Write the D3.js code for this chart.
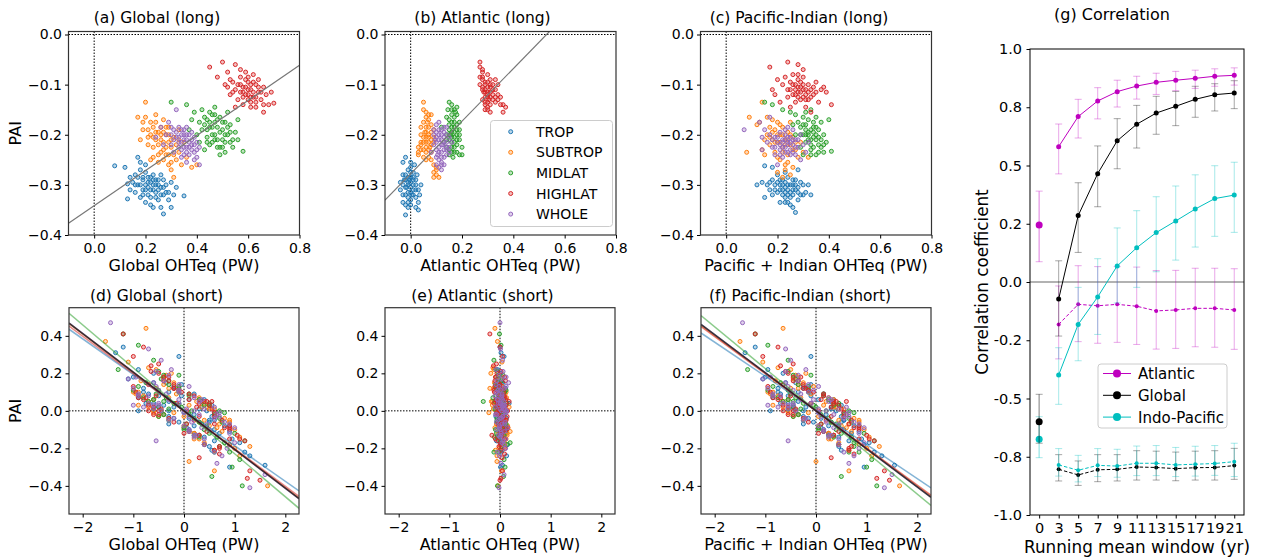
<!DOCTYPE html>
<html>
<head>
<meta charset="utf-8">
<script src="https://cdn.jsdelivr.net/npm/d3@7"></script>
<style>
  body { margin: 0; background: #fff; }
  svg { font-family: "DejaVu Sans", sans-serif; }
</style>
</head>
<body>
<div id="wrapper"></div>
<script>
// ---------- data ----------
const categories = ["TROP", "SUBTROP", "MIDLAT", "HIGHLAT", "WHOLE"]
const catColors = ["#1f77b4", "#ff7f0e", "#2ca02c", "#d62728", "#9467bd"]

const longGlobal = [
  "0.08,-0.262 0.12,-0.265 0.13,-0.298 0.14,-0.31 0.15,-0.295 0.16,-0.28 0.16,-0.315 0.17,-0.245 0.17,-0.30 0.18,-0.27 0.18,-0.325 0.19,-0.29 0.19,-0.31 0.20,-0.275 0.20,-0.30 0.21,-0.285 0.21,-0.32 0.22,-0.295 0.22,-0.31 0.22,-0.34 0.23,-0.28 0.23,-0.30 0.24,-0.315 0.24,-0.29 0.25,-0.33 0.25,-0.30 0.26,-0.305 0.26,-0.345 0.27,-0.29 0.27,-0.32 0.28,-0.30 0.29,-0.315 0.30,-0.295 0.30,-0.345 0.32,-0.305 0.13,-0.328 0.20,-0.335 0.27,-0.358 0.35,-0.322 0.18,-0.255 0.19,-0.285 0.21,-0.295 0.23,-0.31 0.24,-0.30 0.22,-0.285 0.20,-0.31 0.25,-0.29 0.26,-0.32 0.18,-0.30 0.21,-0.305 0.23,-0.29 0.24,-0.325 0.22,-0.325 0.19,-0.32 0.17,-0.285 0.27,-0.305 0.28,-0.315 0.25,-0.31 0.16,-0.30 0.29,-0.33 0.14,-0.285 0.31,-0.32 0.23,-0.345 0.20,-0.26 0.26,-0.28",
  "0.17,-0.165 0.19,-0.175 0.20,-0.135 0.21,-0.19 0.21,-0.22 0.22,-0.175 0.23,-0.205 0.23,-0.245 0.24,-0.16 0.24,-0.195 0.25,-0.22 0.26,-0.185 0.26,-0.21 0.27,-0.23 0.27,-0.17 0.28,-0.2 0.28,-0.24 0.29,-0.215 0.29,-0.185 0.30,-0.225 0.30,-0.27 0.31,-0.205 0.31,-0.285 0.32,-0.25 0.33,-0.235 0.33,-0.19 0.34,-0.26 0.35,-0.215 0.36,-0.245 0.38,-0.265 0.40,-0.26 0.29,-0.26 0.22,-0.25 0.18,-0.21 0.25,-0.24 0.32,-0.22 0.24,-0.21 0.26,-0.2 0.27,-0.215 0.28,-0.185 0.25,-0.195 0.29,-0.2 0.30,-0.21 0.27,-0.195 0.23,-0.185 0.22,-0.2 0.26,-0.235 0.28,-0.225 0.31,-0.24 0.24,-0.175 0.20,-0.165 0.21,-0.205 0.33,-0.21 0.29,-0.24 0.25,-0.255 0.19,-0.19 0.30,-0.255 0.27,-0.25 0.23,-0.225",
  "0.30,-0.135 0.36,-0.14 0.38,-0.17 0.40,-0.2 0.41,-0.215 0.42,-0.19 0.42,-0.15 0.43,-0.165 0.44,-0.205 0.44,-0.17 0.45,-0.185 0.45,-0.22 0.46,-0.16 0.46,-0.2 0.47,-0.175 0.47,-0.145 0.48,-0.21 0.48,-0.185 0.49,-0.165 0.49,-0.225 0.50,-0.19 0.50,-0.21 0.51,-0.175 0.51,-0.235 0.52,-0.2 0.52,-0.155 0.53,-0.215 0.53,-0.18 0.54,-0.225 0.55,-0.195 0.56,-0.17 0.56,-0.21 0.58,-0.233 0.39,-0.155 0.43,-0.23 0.37,-0.19 0.45,-0.175 0.46,-0.185 0.47,-0.2 0.48,-0.17 0.44,-0.19 0.49,-0.195 0.50,-0.175 0.51,-0.2 0.47,-0.21 0.46,-0.215 0.48,-0.225 0.52,-0.185 0.43,-0.18 0.45,-0.155 0.50,-0.225 0.53,-0.195 0.49,-0.24 0.41,-0.175 0.54,-0.21 0.47,-0.16 0.44,-0.215 0.51,-0.215",
  "0.45,-0.065 0.48,-0.085 0.50,-0.055 0.51,-0.1 0.52,-0.075 0.53,-0.12 0.54,-0.095 0.55,-0.06 0.55,-0.11 0.56,-0.13 0.57,-0.085 0.57,-0.1 0.58,-0.115 0.58,-0.14 0.59,-0.075 0.59,-0.105 0.60,-0.12 0.60,-0.095 0.61,-0.135 0.61,-0.11 0.62,-0.08 0.62,-0.125 0.63,-0.1 0.63,-0.145 0.64,-0.115 0.64,-0.09 0.65,-0.13 0.66,-0.155 0.66,-0.105 0.67,-0.12 0.68,-0.14 0.69,-0.115 0.70,-0.137 0.55,-0.145 0.53,-0.09 0.58,-0.105 0.59,-0.12 0.60,-0.11 0.61,-0.1 0.62,-0.115 0.60,-0.13 0.57,-0.115 0.63,-0.125 0.59,-0.09 0.61,-0.125 0.62,-0.095 0.56,-0.1 0.64,-0.105 0.58,-0.125 0.60,-0.085 0.65,-0.115 0.57,-0.07 0.54,-0.115 0.63,-0.135 0.61,-0.145 0.66,-0.14 0.52,-0.105",
  "0.26,-0.185 0.28,-0.2 0.29,-0.175 0.30,-0.22 0.31,-0.19 0.31,-0.235 0.32,-0.205 0.32,-0.15 0.33,-0.215 0.33,-0.185 0.34,-0.2 0.34,-0.23 0.35,-0.21 0.35,-0.19 0.36,-0.225 0.36,-0.2 0.37,-0.215 0.37,-0.24 0.38,-0.195 0.38,-0.22 0.39,-0.205 0.39,-0.235 0.40,-0.215 0.40,-0.245 0.41,-0.225 0.41,-0.26 0.36,-0.255 0.34,-0.245 0.30,-0.2 0.27,-0.22 0.24,-0.205 0.33,-0.205 0.34,-0.215 0.35,-0.225 0.36,-0.21 0.37,-0.2 0.38,-0.23 0.35,-0.2 0.34,-0.19 0.36,-0.235 0.39,-0.22 0.33,-0.225 0.37,-0.225 0.32,-0.195 0.38,-0.21 0.40,-0.23 0.31,-0.21 0.35,-0.24 0.39,-0.25 0.36,-0.185 0.30,-0.185"
]
const longAtlantic = [
  "-0.03,-0.255 -0.02,-0.245 -0.02,-0.28 -0.03,-0.30 -0.01,-0.27 -0.01,-0.295 -0.01,-0.315 0.00,-0.265 0.00,-0.285 0.00,-0.305 0.00,-0.33 -0.02,-0.32 -0.03,-0.335 -0.04,-0.31 -0.01,-0.345 -0.02,-0.36 0.01,-0.29 0.01,-0.31 0.01,-0.275 0.02,-0.30 0.02,-0.325 0.03,-0.31 0.03,-0.335 0.04,-0.3 0.02,-0.345 -0.01,-0.325 0.005,-0.32 -0.005,-0.29 0.015,-0.26 -0.025,-0.29 0.025,-0.28 -0.015,-0.305 0.035,-0.32 -0.01,-0.30 0.00,-0.295 -0.02,-0.305 0.01,-0.32 -0.01,-0.285 0.00,-0.315 -0.02,-0.29 0.01,-0.30 -0.03,-0.32 0.00,-0.275 0.02,-0.31 -0.01,-0.335 -0.02,-0.34 0.00,-0.34 0.01,-0.285 -0.04,-0.295 0.02,-0.29 -0.03,-0.28 0.00,-0.255 0.03,-0.35",
  "0.05,-0.135 0.05,-0.15 0.06,-0.165 0.06,-0.185 0.07,-0.17 0.07,-0.2 0.08,-0.18 0.08,-0.21 0.06,-0.205 0.05,-0.215 0.04,-0.22 0.04,-0.2 0.03,-0.235 0.03,-0.24 0.05,-0.23 0.06,-0.225 0.07,-0.215 0.08,-0.235 0.09,-0.19 0.09,-0.205 0.07,-0.245 0.06,-0.25 0.04,-0.215 0.08,-0.16 0.09,-0.26 0.10,-0.265 0.10,-0.28 0.11,-0.285 0.09,-0.275 0.055,-0.195 0.075,-0.225 0.065,-0.175 0.06,-0.195 0.07,-0.205 0.06,-0.215 0.07,-0.185 0.08,-0.195 0.05,-0.205 0.06,-0.235 0.07,-0.23 0.05,-0.175 0.06,-0.155 0.04,-0.23 0.08,-0.22 0.05,-0.245 0.07,-0.16 0.09,-0.215 0.1,-0.27 0.09,-0.285 0.04,-0.185 0.03,-0.225 0.08,-0.25",
  "0.15,-0.135 0.16,-0.14 0.17,-0.15 0.14,-0.165 0.15,-0.17 0.16,-0.16 0.17,-0.175 0.18,-0.16 0.15,-0.19 0.16,-0.185 0.17,-0.195 0.18,-0.18 0.19,-0.19 0.14,-0.2 0.15,-0.21 0.16,-0.205 0.17,-0.215 0.18,-0.2 0.13,-0.215 0.14,-0.225 0.15,-0.23 0.16,-0.225 0.17,-0.235 0.18,-0.22 0.19,-0.24 0.2,-0.24 0.19,-0.21 0.12,-0.185 0.145,-0.15 0.165,-0.245 0.175,-0.155 0.155,-0.2 0.16,-0.195 0.17,-0.185 0.16,-0.175 0.17,-0.205 0.18,-0.19 0.15,-0.2 0.16,-0.215 0.17,-0.165 0.18,-0.21 0.15,-0.18 0.16,-0.15 0.18,-0.235 0.19,-0.2 0.14,-0.21 0.17,-0.225 0.15,-0.24 0.19,-0.175 0.16,-0.235 0.18,-0.145 0.2,-0.225",
  "0.27,-0.055 0.27,-0.065 0.28,-0.075 0.27,-0.085 0.28,-0.09 0.29,-0.1 0.28,-0.105 0.29,-0.11 0.30,-0.095 0.30,-0.12 0.31,-0.105 0.29,-0.125 0.30,-0.135 0.31,-0.115 0.32,-0.1 0.31,-0.14 0.29,-0.15 0.30,-0.145 0.28,-0.13 0.32,-0.12 0.33,-0.11 0.34,-0.12 0.35,-0.125 0.33,-0.135 0.36,-0.14 0.37,-0.145 0.36,-0.155 0.31,-0.155 0.34,-0.1 0.30,-0.08 0.33,-0.09 0.285,-0.115 0.305,-0.13 0.29,-0.115 0.30,-0.105 0.30,-0.115 0.31,-0.125 0.29,-0.095 0.28,-0.11 0.31,-0.1 0.30,-0.125 0.32,-0.13 0.29,-0.135 0.28,-0.085 0.31,-0.09 0.32,-0.11 0.33,-0.125 0.28,-0.07 0.30,-0.15 0.34,-0.13 0.35,-0.14 0.27,-0.1 0.29,-0.14",
  "0.09,-0.19 0.10,-0.18 0.11,-0.175 0.12,-0.19 0.13,-0.185 0.14,-0.2 0.10,-0.205 0.11,-0.2 0.12,-0.21 0.13,-0.205 0.14,-0.215 0.15,-0.225 0.09,-0.22 0.10,-0.23 0.11,-0.225 0.12,-0.235 0.13,-0.23 0.14,-0.24 0.15,-0.235 0.10,-0.245 0.11,-0.25 0.12,-0.255 0.13,-0.26 0.11,-0.265 0.12,-0.27 0.08,-0.235 0.16,-0.215 0.095,-0.21 0.125,-0.22 0.105,-0.24 0.11,-0.21 0.12,-0.22 0.13,-0.215 0.12,-0.2 0.11,-0.235 0.13,-0.245 0.10,-0.215 0.14,-0.225 0.12,-0.245 0.11,-0.19 0.14,-0.23 0.10,-0.195 0.13,-0.195 0.15,-0.205 0.12,-0.26 0.10,-0.26 0.09,-0.2 0.14,-0.185"
]
const longPacific = [
  "0.12,-0.30 0.14,-0.295 0.15,-0.325 0.16,-0.3 0.17,-0.31 0.18,-0.29 0.18,-0.32 0.19,-0.3 0.2,-0.28 0.2,-0.315 0.21,-0.3 0.21,-0.335 0.22,-0.29 0.22,-0.31 0.23,-0.305 0.23,-0.325 0.24,-0.285 0.24,-0.3 0.25,-0.315 0.25,-0.34 0.26,-0.3 0.26,-0.32 0.27,-0.29 0.27,-0.31 0.28,-0.33 0.28,-0.305 0.29,-0.295 0.29,-0.32 0.3,-0.3 0.31,-0.315 0.32,-0.3 0.33,-0.32 0.27,-0.355 0.26,-0.345 0.15,-0.262 0.18,-0.265 0.28,-0.27 0.23,-0.275 0.22,-0.30 0.23,-0.295 0.24,-0.31 0.25,-0.3 0.21,-0.31 0.22,-0.32 0.24,-0.32 0.26,-0.31 0.2,-0.295 0.23,-0.315 0.25,-0.325 0.19,-0.31 0.27,-0.3 0.21,-0.29 0.24,-0.335 0.28,-0.315 0.17,-0.295 0.26,-0.29 0.23,-0.335 0.3,-0.32",
  "0.09,-0.165 0.08,-0.235 0.12,-0.18 0.14,-0.135 0.14,-0.23 0.15,-0.24 0.16,-0.2 0.17,-0.185 0.17,-0.22 0.18,-0.17 0.18,-0.21 0.19,-0.19 0.19,-0.235 0.2,-0.175 0.2,-0.215 0.21,-0.2 0.21,-0.25 0.22,-0.185 0.22,-0.225 0.23,-0.21 0.23,-0.26 0.24,-0.195 0.24,-0.24 0.25,-0.22 0.25,-0.28 0.26,-0.205 0.26,-0.265 0.27,-0.23 0.28,-0.245 0.29,-0.215 0.3,-0.235 0.32,-0.245 0.2,-0.275 0.22,-0.285 0.16,-0.165 0.25,-0.175 0.21,-0.215 0.22,-0.2 0.23,-0.22 0.2,-0.2 0.24,-0.21 0.19,-0.215 0.22,-0.235 0.25,-0.2 0.18,-0.195 0.21,-0.18 0.26,-0.23 0.17,-0.205 0.24,-0.255 0.2,-0.245 0.27,-0.215 0.15,-0.21 0.23,-0.27 0.13,-0.175",
  "0.15,-0.135 0.18,-0.14 0.22,-0.15 0.25,-0.155 0.27,-0.16 0.28,-0.175 0.29,-0.185 0.3,-0.165 0.3,-0.2 0.31,-0.18 0.31,-0.215 0.32,-0.17 0.32,-0.195 0.33,-0.21 0.33,-0.23 0.34,-0.185 0.34,-0.205 0.34,-0.225 0.35,-0.2 0.35,-0.24 0.36,-0.19 0.36,-0.22 0.37,-0.175 0.37,-0.21 0.38,-0.2 0.38,-0.235 0.39,-0.215 0.4,-0.17 0.41,-0.233 0.29,-0.225 0.27,-0.2 0.26,-0.18 0.33,-0.15 0.3,-0.24 0.35,-0.165 0.32,-0.2 0.33,-0.19 0.34,-0.195 0.31,-0.2 0.33,-0.22 0.35,-0.21 0.32,-0.21 0.36,-0.205 0.31,-0.19 0.34,-0.175 0.3,-0.18 0.37,-0.225 0.35,-0.185 0.29,-0.2 0.36,-0.235 0.38,-0.22 0.31,-0.155 0.33,-0.24",
  "0.17,-0.065 0.24,-0.055 0.28,-0.06 0.3,-0.07 0.2,-0.09 0.22,-0.1 0.23,-0.085 0.24,-0.11 0.25,-0.095 0.26,-0.08 0.26,-0.12 0.27,-0.1 0.27,-0.135 0.28,-0.09 0.28,-0.115 0.29,-0.105 0.29,-0.13 0.3,-0.085 0.3,-0.11 0.31,-0.12 0.31,-0.145 0.32,-0.1 0.32,-0.13 0.33,-0.11 0.34,-0.12 0.35,-0.095 0.36,-0.135 0.37,-0.11 0.38,-0.105 0.39,-0.115 0.41,-0.14 0.19,-0.12 0.21,-0.135 0.25,-0.145 0.33,-0.155 0.18,-0.11 0.28,-0.105 0.29,-0.115 0.3,-0.1 0.27,-0.11 0.29,-0.095 0.31,-0.11 0.28,-0.125 0.3,-0.125 0.26,-0.1 0.32,-0.115 0.27,-0.12 0.33,-0.125 0.25,-0.11 0.31,-0.13 0.28,-0.08 0.34,-0.105 0.24,-0.125 0.35,-0.115",
  "0.07,-0.19 0.13,-0.175 0.14,-0.205 0.15,-0.19 0.16,-0.215 0.17,-0.2 0.18,-0.225 0.19,-0.205 0.19,-0.24 0.2,-0.215 0.21,-0.195 0.21,-0.23 0.22,-0.21 0.22,-0.245 0.23,-0.2 0.23,-0.225 0.24,-0.215 0.24,-0.235 0.25,-0.205 0.25,-0.23 0.26,-0.22 0.26,-0.19 0.27,-0.24 0.27,-0.21 0.28,-0.225 0.29,-0.2 0.29,-0.25 0.3,-0.22 0.31,-0.235 0.32,-0.215 0.17,-0.165 0.2,-0.26 0.14,-0.23 0.24,-0.185 0.22,-0.215 0.23,-0.21 0.24,-0.22 0.25,-0.215 0.21,-0.22 0.22,-0.225 0.23,-0.235 0.24,-0.205 0.26,-0.21 0.2,-0.205 0.25,-0.24 0.27,-0.225 0.21,-0.24 0.23,-0.19 0.28,-0.21 0.19,-0.225 0.26,-0.235 0.18,-0.21"
]
const longTicksX = [0, 0.2, 0.4, 0.6, 0.8]
const longTicksY = [-0.4, -0.3, -0.2, -0.1, 0]
const longFitGlobal = [-0.3415, 0.35]      // intercept, slope
const longFitAtlantic = [-0.278, 0.525]

// short term: PAI per category, and OHT for each basin (same order)
const shortPAI = [
  [0.31, 0.22, 0.29, 0.05, 0.12, -0.02, 0.08, -0.06, 0.00, -0.10, 0.03, -0.14, 0.15, -0.18, 0.02, -0.04, 0.10, -0.22, -0.08, 0.06, -0.29, 0.18, -0.12, 0.01, -0.30, 0.04, -0.05, -0.24, 0.09, -0.01, -0.16, 0.34,
   0.05, -0.03, 0.11, -0.08, 0.02, 0.14, -0.12, 0.07, -0.01, 0.09, -0.06, 0.04, -0.15, 0.12, 0.00, -0.09, 0.06, -0.04, 0.17, -0.19, 0.03, -0.02, 0.08, -0.11, 0.01, 0.13, -0.07, 0.10, -0.13, 0.02, -0.05, 0.15, -0.10, 0.04, -0.17, 0.06, 0.00, -0.03, 0.20, -0.21],
  [0.37, 0.44, 0.20, 0.26, 0.12, -0.01, 0.07, -0.05, 0.03, -0.11, 0.16, -0.15, 0.00, -0.20, 0.09, -0.27, -0.08, 0.05, -0.32, 0.14, -0.03, -0.40, 0.02, -0.18, 0.22, -0.12, 0.10, -0.06, 0.19, -0.24, 0.04, -0.09,
   -0.02, 0.06, -0.09, 0.13, 0.01, -0.14, 0.08, -0.05, 0.18, -0.01, 0.04, -0.12, 0.10, -0.07, 0.02, 0.15, -0.17, 0.05, -0.03, 0.11, -0.10, 0.00, 0.07, -0.21, 0.03, -0.06, 0.12, -0.04, 0.09, -0.15, 0.01, 0.17, -0.08, 0.04, -0.13, 0.06, -0.02, 0.23, -0.19, 0.02],
  [0.41, 0.22, 0.35, 0.27, 0.13, 0.19, 0.05, 0.09, -0.02, 0.01, -0.07, 0.15, -0.12, 0.03, -0.17, -0.04, -0.22, 0.07, -0.26, 0.00, -0.10, -0.35, 0.11, -0.40, -0.14, 0.04, -0.19, -0.06, 0.17, -0.30, 0.02, -0.08,
   0.03, -0.05, 0.10, -0.11, 0.06, -0.02, 0.14, -0.08, 0.01, 0.08, -0.14, 0.04, -0.03, 0.12, -0.18, 0.07, 0.00, -0.06, 0.16, -0.10, 0.02, 0.09, -0.13, 0.05, -0.01, 0.19, -0.16, 0.11, -0.04, 0.03, -0.09, 0.13, -0.22, 0.06, -0.07, 0.21, 0.00, -0.12, 0.08, -0.02],
  [0.41, 0.34, 0.29, 0.25, 0.21, 0.16, 0.12, 0.08, 0.04, 0.00, -0.03, -0.07, -0.11, 0.06, -0.15, 0.10, -0.19, 0.02, -0.25, -0.05, 0.14, -0.36, 0.01, -0.09, -0.32, 0.18, -0.13, 0.05, -0.02, -0.21, -0.37, 0.07,
   0.09, -0.04, 0.13, -0.08, 0.02, 0.05, -0.12, 0.16, -0.01, 0.07, -0.15, 0.03, -0.06, 0.11, -0.18, 0.00, 0.20, -0.10, 0.04, -0.03, 0.14, -0.20, 0.06, -0.07, 0.01, 0.10, -0.13, 0.08, -0.02, 0.18, -0.09, 0.03, -0.16, 0.12, -0.05, 0.24, -0.23, 0.05, -0.11, 0.00],
  [0.47, 0.33, 0.27, 0.22, 0.18, 0.13, 0.09, 0.06, 0.03, 0.01, -0.02, -0.04, -0.07, -0.10, -0.13, -0.16, -0.20, -0.24, -0.28, -0.34, -0.41, 0.08, -0.03, 0.00, 0.11, -0.09, 0.04, -0.06, 0.15, -0.17, 0.02, -0.01,
   0.07, -0.05, 0.12, -0.09, 0.03, -0.01, 0.16, -0.13, 0.05, 0.09, -0.07, 0.01, 0.14, -0.11, 0.04, -0.03, 0.19, -0.15, 0.06, 0.00, -0.18, 0.10, -0.04, 0.02, 0.13, -0.08, 0.08, -0.02, 0.21, -0.12, 0.04, -0.06, 0.11, -0.22, 0.01, 0.17, -0.10, 0.03, -0.14, 0.06]
]
const shortGlobal = [
  [-1.35, -0.9, -0.1, -0.3, -0.8, 0.2, -0.5, 0.5, -0.9, 0.6, -0.4, 0.4, -0.6, 0.9, -0.2, 0.1, -0.3, 1.2, 0.2, -0.6, 1.6, -1.0, 0.7, 0.3, 0.9, -0.1, 0.5, 1.3, -0.7, 0.0, 0.6, -1.2,
   0.35, -0.3, -0.1, 0.8, -0.5, -0.05, 0.2, -0.9, 0.6, 0.2, -0.1, -0.6, 0.95, -0.2, 0.45, 0.05, 0.4, -0.2, -1.1, 0.5, 0.55, -0.4, -0.05, 0.9, -0.6, -0.2, -0.3, -0.8, 0.3, 0.35, 0.6, -0.35, 0.1, -0.75, 1.1, 0.1, -0.3, 0.55, -0.6, 0.55],
  [-1.55, -0.75, -0.25, -1.1, -0.55, -0.2, -0.3, 0.4, 0.1, 0.75, -0.85, 0.3, -0.6, 1.0, -0.15, 0.1, 0.5, -0.7, 0.6, -0.4, 0.0, 1.65, 0.35, 0.9, -0.55, 0.2, -1.0, 0.3, -0.35, 1.1, -0.15, 0.65,
   -0.4, 0.3, 0.0, -0.1, 0.6, 1.1, -0.8, 0.9, -0.4, -0.6, 0.4, 0.2, -0.9, 0.7, -0.7, -0.2, 0.4, 0.25, -0.5, -0.1, 1.0, -0.45, 0.3, 0.6, -0.9, 0.9, -0.3, 0.8, -0.95, 0.2, 0.5, -0.4, 0.0, -0.7, 0.3, -0.6, 0.65, -0.7, 1.3, 0.45],
  [-1.2, -1.3, -0.9, -0.6, -0.9, -0.1, -0.4, -0.55, 0.1, -0.3, 0.35, -0.75, 0.5, -0.1, 0.8, 0.2, 0.9, -0.35, 1.1, 0.15, 0.4, 0.55, -0.5, 1.15, 0.65, -0.2, 0.7, 0.3, -0.45, 0.95, -0.05, 0.45,
   0.4, -0.3, -0.1, 0.1, -0.6, 0.6, -0.3, 0.9, -0.6, -0.9, 0.3, 0.5, -0.5, -0.1, 0.4, -0.8, 0.7, 0.75, -0.3, 0.0, -0.5, 0.1, 0.2, -0.7, 0.8, -0.4, 1.2, -1.0, 0.7, 0.5, 0.0, -0.1, 0.6, 0.3, 0.05, -0.5, -0.45, 1.0, 0.1, -0.4],
  [-1.2, -0.8, -1.0, -0.5, -0.65, -0.4, -0.2, -0.55, -0.15, 0.05, 0.3, 0.6, 0.45, 0.1, 0.9, -0.05, 0.7, 0.25, 0.3, 0.2, -0.7, 1.25, -0.45, 0.8, 1.3, -0.3, 1.05, 0.55, -0.6, 0.6, 1.5, -0.75,
   0.1, -0.3, -1.0, 0.9, -0.6, 0.4, 0.0, -0.3, 0.6, -0.9, 1.1, 0.5, -0.2, -0.1, 0.4, -0.7, -0.5, 0.9, 0.3, 0.6, -0.2, 0.7, -0.8, 0.05, 0.55, -0.95, 0.3, 0.2, -0.5, -0.4, 0.9, -0.7, 1.2, -0.2, 0.75, -0.65, 0.7, 0.45, 0.1, -0.5],
  [-1.45, -0.7, -0.45, -0.25, -0.95, -0.55, -0.35, -0.3, -1.0, 0.05, 0.3, -0.2, 0.45, 0.5, 0.25, -0.55, 0.85, 0.75, 0.65, 1.6, 1.3, -0.7, 0.1, 0.2, -0.5, 0.35, -0.1, 0.15, -0.6, 1.0, 0.6, 0.0,
   0.2, -0.3, -1.0, 1.0, -0.5, 0.7, -0.4, 0.2, 0.3, -0.9, 0.9, -0.6, -0.1, 0.1, -0.7, 0.7, -0.3, 0.4, 0.35, -0.45, 0.4, -0.1, 0.6, -0.8, 0.1, 0.0, -0.9, 0.65, -0.55, 0.9, -0.5, 0.8, -0.1, 0.6, 0.4, -1.1, 0.1, -0.6, 0.2, -0.1]
]
const shortAtlantic = [
  [0.02, -0.05, 0.08, 0.05, -0.03, 0.01, 0.04, 0.10, -0.06, 0.12, 0.00, -0.02, 0.06, 0.15, -0.04, 0.03, 0.09, 0.02, -0.01, 0.07, 0.05, -0.08, 0.11, -0.05, 0.01, 0.18, 0.04, 0.13, -0.03, 0.06, -0.07, 0.0,
   0.03, -0.02, 0.06, 0.0, 0.09, -0.04, 0.01, 0.05, -0.07, 0.02, 0.08, -0.01, 0.04, 0.11, -0.03, 0.06, 0.0, 0.13, -0.05, 0.03, 0.07, -0.02, 0.01, 0.1, -0.06, 0.04, 0.02, -0.03, 0.08, 0.05, -0.01, 0.03, 0.12, -0.04, 0.0, 0.06, 0.09, -0.08, 0.02, 0.04],
  [-0.05, -0.1, -0.18, 0.04, -0.2, -0.22, 0.0, 0.08, -0.15, 0.2, -0.03, 0.12, 0.06, -0.02, 0.1, -0.06, 0.15, -0.17, 0.03, -0.08, 0.05, -0.04, 0.18, 0.09, -0.12, 0.14, -0.02, 0.11, 0.0, -0.06, 0.07, 0.16,
   -0.06, 0.03, -0.1, 0.05, -0.13, 0.08, -0.02, 0.1, -0.08, 0.0, 0.06, -0.04, 0.12, -0.07, 0.02, -0.11, 0.09, -0.15, 0.04, -0.01, 0.07, -0.05, 0.13, -0.09, 0.01, 0.05, -0.12, 0.08, -0.03, 0.11, -0.08, 0.02, 0.06, -0.06, 0.14, -0.02, 0.04, -0.14, 0.09, 0.0],
  [-0.01, -0.08, 0.02, -0.12, -0.05, 0.06, -0.33, 0.03, 0.09, -0.1, 0.12, -0.04, -0.07, 0.05, 0.2, 0.0, -0.02, -0.14, 0.08, 0.04, -0.09, 0.07, 0.01, -0.05, -0.11, 0.13, 0.03, -0.06, -0.03, 0.1, 0.06, -0.01,
   0.02, -0.06, 0.09, 0.0, -0.03, 0.05, -0.09, 0.11, -0.01, 0.04, -0.05, 0.07, 0.01, -0.08, 0.13, -0.02, 0.06, -0.04, 0.03, 0.1, -0.07, 0.02, 0.08, -0.1, 0.05, -0.03, 0.0, 0.12, -0.06, 0.04, 0.09, -0.01, -0.12, 0.07, 0.02, -0.05, 0.11, 0.0, -0.08, 0.06],
  [-0.2, 0.0, 0.05, -0.07, 0.02, -0.1, 0.08, 0.03, -0.12, 0.0, 0.14, -0.04, 0.06, 0.11, -0.09, 0.07, -0.02, -0.06, 0.04, 0.12, 0.0, 0.02, -0.03, 0.15, 0.05, 0.09, -0.16, 0.18, -0.05, 0.01, 0.0, 0.1,
   -0.04, 0.06, -0.1, 0.02, 0.08, -0.05, 0.0, 0.11, -0.07, 0.03, 0.09, -0.02, 0.05, -0.12, 0.01, 0.07, -0.06, 0.13, -0.03, 0.04, 0.0, 0.1, -0.08, 0.02, 0.06, -0.11, 0.03, 0.08, -0.01, -0.09, 0.05, 0.12, -0.04, 0.0, 0.07, -0.13, 0.09, -0.02, 0.04, 0.15],
  [0.0, 0.01, 0.05, -0.08, 0.12, -0.02, 0.04, -0.05, 0.07, 0.1, -0.06, 0.03, 0.09, 0.0, -0.03, 0.06, 0.11, -0.01, 0.02, 0.08, -0.02, -0.1, 0.05, 0.13, -0.04, 0.15, 0.01, -0.07, 0.17, 0.04, -0.09, 0.12,
   0.03, -0.04, 0.08, -0.01, 0.05, 0.1, -0.06, 0.02, 0.07, -0.03, 0.04, 0.0, -0.08, 0.09, 0.01, 0.06, -0.02, 0.11, -0.05, 0.03, 0.08, -0.07, 0.0, 0.05, 0.12, -0.01, 0.04, -0.09, 0.06, 0.02, -0.03, 0.1, 0.01, -0.05, 0.07, 0.03, -0.06, 0.09, 0.0, 0.05]
]
const shortPacific = [
  [-1.4, -0.95, -0.1, -0.35, -0.75, 0.2, -0.55, 0.5, -0.9, 0.55, -0.45, 0.45, -0.6, 0.95, -0.2, 0.1, -0.35, 1.15, 0.25, -0.55, 1.55, -1.0, 0.7, 0.3, 0.95, -0.1, 0.55, 1.3, -0.7, 0.05, 0.65, -1.2,
   0.3, -0.25, -0.15, 0.75, -0.45, -0.1, 0.25, -0.85, 0.55, 0.15, -0.05, -0.55, 0.9, -0.25, 0.4, 0.1, 0.35, -0.15, -1.05, 0.45, 0.5, -0.35, -0.1, 0.85, -0.55, -0.25, -0.25, -0.75, 0.35, 0.3, 0.55, -0.4, 0.15, -0.7, 1.05, 0.05, -0.25, 0.5, -0.65, 0.5],
  [-1.5, -0.65, -0.2, -1.05, -0.5, -0.15, -0.3, 0.45, 0.15, 0.7, -0.8, 0.3, -0.55, 1.0, -0.1, 0.0, 0.5, -0.65, 0.65, -0.35, 0.05, 1.65, 0.35, 0.85, -0.5, 0.25, -0.95, 0.3, -0.4, 1.1, -0.1, 0.6,
   -0.35, 0.35, 0.05, -0.05, 0.55, 1.05, -0.75, 0.85, -0.35, -0.55, 0.35, 0.25, -0.85, 0.65, -0.65, -0.25, 0.45, 0.2, -0.45, -0.15, 0.95, -0.4, 0.25, 0.65, -0.85, 0.85, -0.35, 0.75, -0.9, 0.25, 0.45, -0.45, 0.05, -0.65, 0.35, -0.55, 0.6, -0.75, 1.25, 0.4],
  [-1.2, -1.35, -0.95, -0.55, -0.85, -0.1, -0.45, -0.5, 0.1, -0.3, 0.4, -0.7, 0.5, -0.05, 0.75, 0.25, 0.85, -0.4, 1.1, 0.2, 0.4, 0.5, -0.55, 1.2, 0.7, -0.25, 0.75, 0.3, -0.4, 1.0, 0.0, 0.45,
   0.35, -0.25, -0.15, 0.15, -0.55, 0.55, -0.35, 0.85, -0.55, -0.85, 0.35, 0.45, -0.45, -0.15, 0.45, -0.75, 0.65, 0.7, -0.35, 0.05, -0.45, 0.15, 0.25, -0.65, 0.75, -0.45, 1.15, -0.95, 0.65, 0.45, 0.05, -0.15, 0.65, 0.25, 0.1, -0.55, -0.4, 0.95, 0.15, -0.35],
  [-1.2, -0.75, -1.05, -0.45, -0.6, -0.45, -0.2, -0.5, -0.1, 0.05, 0.3, 0.65, 0.45, 0.1, 0.85, -0.05, 0.7, 0.3, 0.3, 0.2, -0.65, 1.2, -0.4, 0.75, 1.35, -0.3, 1.0, 0.6, -0.55, 0.65, 1.45, -0.7,
   0.15, -0.25, -0.95, 0.85, -0.55, 0.35, 0.05, -0.35, 0.55, -0.85, 1.05, 0.45, -0.15, -0.15, 0.45, -0.65, -0.55, 0.85, 0.35, 0.55, -0.25, 0.65, -0.75, 0.1, 0.5, -0.9, 0.35, 0.15, -0.45, -0.45, 0.85, -0.65, 1.15, -0.25, 0.7, -0.7, 0.75, 0.4, 0.15, -0.45],
  [-1.45, -0.6, -0.5, -0.2, -0.9, -0.55, -0.3, -0.3, -0.95, 0.05, 0.35, -0.2, 0.45, 0.5, 0.3, -0.55, 0.85, 0.75, 0.65, 1.5, 1.35, -0.7, 0.1, 0.2, -0.45, 0.35, -0.1, 0.2, -0.6, 0.95, 0.6, 0.05,
   0.25, -0.25, -0.95, 0.95, -0.45, 0.65, -0.35, 0.25, 0.25, -0.85, 0.85, -0.55, -0.15, 0.15, -0.65, 0.65, -0.35, 0.45, 0.3, -0.4, 0.45, -0.15, 0.55, -0.75, 0.05, 0.05, -0.85, 0.6, -0.6, 0.85, -0.45, 0.75, -0.05, 0.55, 0.45, -1.05, 0.15, -0.55, 0.25, -0.05]
]
const shortTicksX = [-2, -1, 0, 1, 2]
const shortTicksY = [-0.4, -0.2, 0, 0.2, 0.4]
// regression fits (intercept, slope) per category, then all points
const shortFitGlobal = [[0.004, -0.19], [0.0, -0.205], [0.0, -0.229], [-0.002, -0.2], [0.0, -0.207]]
const shortFitGlobalAll = [0.0, -0.206]
const shortFitPacific = [[0.002, -0.182], [0.0, -0.2], [0.002, -0.223], [0.0, -0.198], [0.0, -0.203]]
const shortFitPacificAll = [0.0, -0.203]

// (g) correlation vs running mean window
const windowLabels = ["0", "3", "5", "7", "9", "11", "13", "15", "17", "19", "21"]
const corrTicks = [-1, -0.75, -0.5, -0.25, 0, 0.25, 0.5, 0.75, 1]
const corrTickLabels = ["-1.0", "-0.8", "-0.5", "-0.2", "0.0", "0.2", "0.5", "0.8", "1.0"]
const atlSolid   = [0.245, 0.581, 0.71, 0.777, 0.817, 0.841, 0.857, 0.866, 0.874, 0.883, 0.887]
const atlSolidLo = [0.087, 0.464, 0.618, 0.70, 0.751, 0.785, 0.805, 0.821, 0.831, 0.84, 0.845]
const atlSolidHi = [0.39, 0.678, 0.784, 0.834, 0.866, 0.883, 0.896, 0.904, 0.909, 0.915, 0.919]
const gloSolid   = [-0.6, -0.073, 0.285, 0.465, 0.606, 0.677, 0.725, 0.754, 0.784, 0.804, 0.811]
const gloSolidLo = [-0.692, -0.232, 0.127, 0.323, 0.486, 0.575, 0.634, 0.671, 0.707, 0.734, 0.744]
const gloSolidHi = [-0.482, 0.091, 0.426, 0.584, 0.701, 0.758, 0.797, 0.818, 0.84, 0.851, 0.864]
const pacSolid   = [-0.675, -0.399, -0.182, -0.064, 0.069, 0.147, 0.212, 0.262, 0.313, 0.358, 0.373]
const pacSolidLo = [-0.754, -0.525, -0.338, -0.225, -0.09, -0.023, 0.044, 0.094, 0.15, 0.196, 0.213]
const pacSolidHi = [-0.578, -0.282, -0.023, 0.1, 0.232, 0.306, 0.366, 0.412, 0.46, 0.499, 0.514]
const atlDashed   = [null, -0.182, -0.096, -0.102, -0.096, -0.104, -0.124, -0.12, -0.113, -0.113, -0.12]
const atlDashedLo = [null, -0.33, -0.256, -0.263, -0.259, -0.268, -0.288, -0.285, -0.278, -0.28, -0.289]
const atlDashedHi = [null, -0.017, 0.07, 0.066, 0.066, 0.064, 0.049, 0.05, 0.059, 0.059, 0.057]
const gloDashed   = [null, -0.804, -0.828, -0.806, -0.804, -0.794, -0.796, -0.801, -0.797, -0.796, -0.788]
const gloDashedLo = [null, -0.854, -0.873, -0.857, -0.854, -0.85, -0.85, -0.853, -0.85, -0.85, -0.847]
const gloDashedHi = [null, -0.741, -0.768, -0.741, -0.741, -0.724, -0.726, -0.73, -0.726, -0.724, -0.714]
const pacDashed   = [null, -0.785, -0.808, -0.787, -0.79, -0.778, -0.778, -0.785, -0.782, -0.779, -0.771]
const pacDashedLo = [null, -0.833, -0.858, -0.835, -0.838, -0.831, -0.831, -0.835, -0.833, -0.83, -0.835]
const pacDashedHi = [null, -0.715, -0.744, -0.715, -0.718, -0.704, -0.702, -0.71, -0.705, -0.702, -0.692]

// ---------- drawing ----------
const svg = d3.select("#wrapper").append("svg")
  .attr("width", 1268).attr("height", 558)
  .style("background", "#fff")

const parsePairs = s => s.trim().split(/\s+/).map(p => p.split(",").map(Number))
const fmt1 = d3.format(".1f")

function styleAxis(g, size) {
  g.select(".domain").remove()
  g.selectAll("text").attr("font-size", size).attr("font-family", "DejaVu Sans").attr("fill", "#000")
  g.selectAll("line").attr("stroke", "#000")
}

function scatterPanel(p) {
  const x = d3.scaleLinear().domain(p.xDomain).range([p.left, p.left + p.width])
  const y = d3.scaleLinear().domain(p.yDomain).range([p.top + p.height, p.top])
  const g = svg.append("g")
  svg.append("clipPath").attr("id", "clip-" + p.id)
    .append("rect").attr("x", p.left).attr("y", p.top).attr("width", p.width).attr("height", p.height)
  const plot = g.append("g").attr("clip-path", `url(#clip-${p.id})`)

  // zero lines
  plot.append("line").attr("x1", x(0)).attr("x2", x(0)).attr("y1", p.top).attr("y2", p.top + p.height)
    .attr("stroke", "#000").attr("stroke-width", 1).attr("stroke-dasharray", "1.5,1.5")
  plot.append("line").attr("x1", p.left).attr("x2", p.left + p.width).attr("y1", y(0)).attr("y2", y(0))
    .attr("stroke", "#000").attr("stroke-width", 1).attr("stroke-dasharray", "1.5,1.5")

  // points
  p.points.forEach((pts, ci) => {
    plot.append("g").selectAll("circle").data(pts).join("circle")
      .attr("cx", d => x(d[0])).attr("cy", d => y(d[1])).attr("r", 2)
      .attr("fill", catColors[ci]).attr("fill-opacity", 0.3)
      .attr("stroke", catColors[ci]).attr("stroke-width", 1)
  })

  // fit lines
  const fitLine = (f, color, opacity, w) => plot.append("line")
    .attr("x1", x(p.xDomain[0])).attr("y1", y(f[0] + f[1] * p.xDomain[0]))
    .attr("x2", x(p.xDomain[1])).attr("y2", y(f[0] + f[1] * p.xDomain[1]))
    .attr("stroke", color).attr("stroke-opacity", opacity).attr("stroke-width", w)
  if (p.catFits) p.catFits.forEach((f, ci) => fitLine(f, catColors[ci], 0.55, 1.5))
  if (p.fit) fitLine(p.fit, p.fitColor, p.fitOpacity, p.fitWidth)

  // frame
  g.append("rect").attr("x", p.left).attr("y", p.top).attr("width", p.width).attr("height", p.height)
    .attr("fill", "none").attr("stroke", "#333").attr("stroke-width", 1.2)

  // axes
  const xAxis = g.append("g").attr("transform", `translate(0,${p.top + p.height})`)
    .call(d3.axisBottom(x).tickValues(p.xTicks).tickFormat(p.xFormat).tickSize(3.5).tickPadding(4.5))
  styleAxis(xAxis, 14)
  const yAxis = g.append("g").attr("transform", `translate(${p.left},0)`)
    .call(d3.axisLeft(y).tickValues(p.yTicks).tickFormat(fmt1).tickSize(3.5).tickPadding(3))
  styleAxis(yAxis, 14)

  // labels
  g.append("text").attr("x", p.titleX).attr("y", p.titleY).attr("text-anchor", "middle")
    .attr("font-size", 15.5).text(p.title)
  g.append("text").attr("x", p.left + p.width / 2).attr("y", p.xLabelY).attr("text-anchor", "middle")
    .attr("font-size", 16).text(p.xLabel)
  if (p.yLabel) {
    g.append("text").attr("transform", `translate(21,${p.top + p.height / 2}) rotate(-90)`)
      .attr("text-anchor", "middle").attr("font-size", 16).text(p.yLabel)
  }
  return g
}

const topDims = { top: 31.5, height: 203.5, width: 231, xDomain: [-0.1, 0.8], yDomain: [-0.4, 0.006],
  xTicks: longTicksX, yTicks: longTicksY, xFormat: fmt1, titleY: 22.5, xLabelY: 271 }
const botDims = { top: 307.7, height: 206.3, width: 230, xDomain: [-2.27, 2.27], yDomain: [-0.55, 0.55],
  xTicks: shortTicksX, yTicks: shortTicksY, xFormat: d3.format("d"), titleY: 300.5, xLabelY: 550 }

scatterPanel({ ...topDims, id: "a", left: 68.5, title: "(a) Global (long)", titleX: 157,
  xLabel: "Global OHTeq (PW)", yLabel: "PAI", points: longGlobal.map(parsePairs),
  fit: longFitGlobal, fitColor: "#777", fitOpacity: 1, fitWidth: 1.2 })
const panelB = scatterPanel({ ...topDims, id: "b", left: 385, title: "(b) Atlantic (long)", titleX: 482.5,
  xLabel: "Atlantic OHTeq (PW)", points: longAtlantic.map(parsePairs),
  fit: longFitAtlantic, fitColor: "#777", fitOpacity: 1, fitWidth: 1.2 })
scatterPanel({ ...topDims, id: "c", left: 700.5, title: "(c) Pacific-Indian (long)", titleX: 799,
  xLabel: "Pacific + Indian OHTeq (PW)", points: longPacific.map(parsePairs) })

const zipShort = xs => xs.map((arr, ci) => arr.map((v, i) => [v, shortPAI[ci][i]]))
scatterPanel({ ...botDims, id: "d", left: 69, title: "(d) Global (short)", titleX: 156.5,
  xLabel: "Global OHTeq (PW)", yLabel: "PAI", points: zipShort(shortGlobal),
  catFits: shortFitGlobal, fit: shortFitGlobalAll, fitColor: "#000", fitOpacity: 0.7, fitWidth: 1.6 })
scatterPanel({ ...botDims, id: "e", left: 385, title: "(e) Atlantic (short)", titleX: 482.5,
  xLabel: "Atlantic OHTeq (PW)", points: zipShort(shortAtlantic) })
scatterPanel({ ...botDims, id: "f", left: 701, title: "(f) Pacific-Indian (short)", titleX: 800,
  xLabel: "Pacific + Indian OHTeq (PW)", points: zipShort(shortPacific),
  catFits: shortFitPacific, fit: shortFitPacificAll, fitColor: "#000", fitOpacity: 0.7, fitWidth: 1.6 })

// legend for panel (b)
const legB = panelB.append("g")
legB.append("rect").attr("x", 490.5).attr("y", 120.5).attr("width", 122).attr("height", 106).attr("rx", 3)
  .attr("fill", "#fff").attr("fill-opacity", 0.8).attr("stroke", "#ccc")
categories.forEach((c, i) => {
  const yy = 131.7 + i * 20.6
  legB.append("circle").attr("cx", 510.7).attr("cy", yy).attr("r", 2)
    .attr("fill", catColors[i]).attr("fill-opacity", 0.3).attr("stroke", catColors[i])
  legB.append("text").attr("x", 536).attr("y", yy).attr("dy", "0.36em").attr("font-size", 14).text(c)
})

// ---------- (g) correlation ----------
const gLeft = 1030, gRight = 1244, gTop = 49, gBottom = 515
const cx = d3.scaleLinear().domain([-0.47, 10.5]).range([gLeft, gRight])
const cy = d3.scaleLinear().domain([-1, 1]).range([gBottom, gTop])
const gG = svg.append("g")

gG.append("line").attr("x1", gLeft).attr("x2", gRight).attr("y1", cy(0)).attr("y2", cy(0))
  .attr("stroke", "#999").attr("stroke-width", 1.5)

const corrSeries = [
  { color: "#000000", mid: gloDashed, lo: gloDashedLo, hi: gloDashedHi, dashed: true },
  { color: "#00bfbf", mid: pacDashed, lo: pacDashedLo, hi: pacDashedHi, dashed: true },
  { color: "#bf00bf", mid: atlDashed, lo: atlDashedLo, hi: atlDashedHi, dashed: true },
  { color: "#00bfbf", mid: pacSolid, lo: pacSolidLo, hi: pacSolidHi, dashed: false },
  { color: "#000000", mid: gloSolid, lo: gloSolidLo, hi: gloSolidHi, dashed: false },
  { color: "#bf00bf", mid: atlSolid, lo: atlSolidLo, hi: atlSolidHi, dashed: false }
]

corrSeries.forEach(s => {
  const idx = d3.range(s.mid.length).filter(i => s.mid[i] !== null)
  const eb = gG.append("g").attr("stroke", s.color).attr("stroke-opacity", 0.35).attr("stroke-width", 1)
  idx.forEach(i => {
    eb.append("line").attr("x1", cx(i)).attr("x2", cx(i)).attr("y1", cy(s.lo[i])).attr("y2", cy(s.hi[i]))
      .attr("stroke-width", i === 0 ? 1.5 : 1)
    ;[s.lo[i], s.hi[i]].forEach(v => eb.append("line")
      .attr("x1", cx(i) - 3.5).attr("x2", cx(i) + 3.5).attr("y1", cy(v)).attr("y2", cy(v)))
  })
  const line = d3.line().defined((d, i) => i > 0 && d !== null).x((d, i) => cx(i)).y(d => cy(d))
  gG.append("path").attr("d", line(s.mid)).attr("fill", "none").attr("stroke", s.color)
    .attr("stroke-width", 1).attr("stroke-dasharray", s.dashed ? "3.5,2" : null)
  gG.append("g").selectAll("circle").data(idx).join("circle")
    .attr("cx", i => cx(i)).attr("cy", i => cy(s.mid[i]))
    .attr("r", i => i === 0 ? 3.5 : (s.dashed ? 2 : 2.5)).attr("fill", s.color)
})

gG.append("rect").attr("x", gLeft).attr("y", gTop).attr("width", gRight - gLeft).attr("height", gBottom - gTop)
  .attr("fill", "none").attr("stroke", "#000").attr("stroke-width", 1)

const gx = gG.append("g").attr("transform", `translate(0,${gBottom})`)
  .call(d3.axisBottom(cx).tickValues(d3.range(windowLabels.length)).tickFormat(i => windowLabels[i])
    .tickSize(3.5).tickPadding(4.5))
styleAxis(gx, 14.5)
const gy = gG.append("g").attr("transform", `translate(${gLeft},0)`)
  .call(d3.axisLeft(cy).tickValues(corrTicks).tickFormat((v, i) => corrTickLabels[i])
    .tickSize(3.5).tickPadding(4.5))
styleAxis(gy, 14.5)

gG.append("text").attr("x", 1112).attr("y", 19.5).attr("text-anchor", "middle").attr("font-size", 16)
  .text("(g) Correlation")
gG.append("text").attr("x", 1137).attr("y", 553).attr("text-anchor", "middle").attr("font-size", 16.8)
  .text("Running mean window (yr)")
gG.append("text").attr("transform", `translate(988,${(gTop + gBottom) / 2}) rotate(-90)`)
  .attr("text-anchor", "middle").attr("font-size", 16.8).text("Correlation coefficient")

// legend for (g)
const legG = gG.append("g")
legG.append("rect").attr("x", 1098).attr("y", 364).attr("width", 129).attr("height", 64).attr("rx", 3)
  .attr("fill", "#fff").attr("fill-opacity", 0.8).attr("stroke", "#ccc")
const legEntries = [["Atlantic", "#bf00bf"], ["Global", "#000000"], ["Indo-Pacific", "#00bfbf"]]
legEntries.forEach(([name, color], i) => {
  const yy = 373.5 + i * 21.8
  legG.append("line").attr("x1", 1103).attr("x2", 1131).attr("y1", yy).attr("y2", yy)
    .attr("stroke", color).attr("stroke-width", 1)
  legG.append("circle").attr("cx", 1117).attr("cy", yy).attr("r", 4).attr("fill", color)
  legG.append("text").attr("x", 1138).attr("y", yy).attr("dy", "0.36em").attr("font-size", 15).text(name)
})
</script>
</body>
</html>
